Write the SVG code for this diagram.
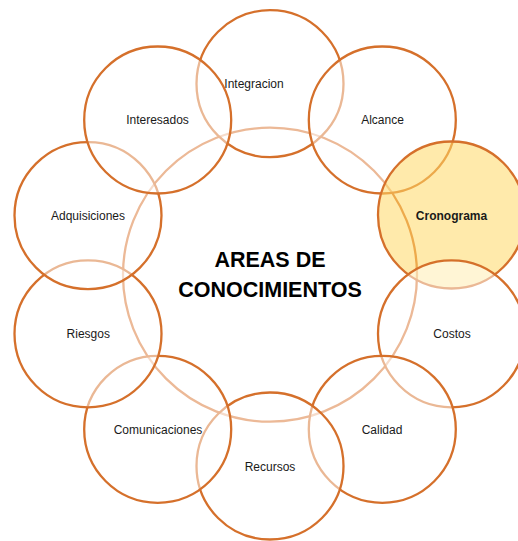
<svg xmlns="http://www.w3.org/2000/svg" width="518" height="541" viewBox="0 0 518 541">
<style>
.c{fill:#FFFFFF;fill-opacity:0.5;stroke:#D5702B;stroke-width:2.3}
.hub{fill:none;stroke:#D8722E;stroke-width:2.3}
.t{font-family:"Liberation Sans",Arial,sans-serif;font-size:12px;fill:#1a1a1a;text-anchor:middle;dominant-baseline:central}
.b{font-weight:bold}
.h{font-family:"Liberation Sans",Arial,sans-serif;font-size:21.5px;font-weight:bold;fill:#000;text-anchor:middle}
</style>
<rect width="518" height="541" fill="#FFFFFF"/>
<g id="hub"><circle class="hub" cx="270" cy="274.7" r="147"/>
<text class="h" x="270" y="266.7">AREAS DE</text><text class="h" x="270" y="296.7">CONOCIMIENTOS</text></g>
<g id="integracion"><circle class="c" cx="270" cy="83.7" r="73.5"/><text class="t" x="254" y="83.5">Integracion</text></g>
<g id="alcance"><circle class="c" cx="382.3" cy="120" r="73.5"/><text class="t" x="382.5" y="120">Alcance</text></g>
<g id="cronograma"><circle class="c" cx="451.5" cy="215" r="73.5" style="fill:#FFD966;fill-opacity:0.55"/><text class="t b" x="451.5" y="215.5">Cronograma</text></g>
<g id="costos"><circle class="c" cx="451.5" cy="333.8" r="73.5"/><text class="t" x="452" y="334">Costos</text></g>
<g id="calidad"><circle class="c" cx="382.3" cy="429.3" r="73.5"/><text class="t" x="382" y="430">Calidad</text></g>
<g id="recursos"><circle class="c" cx="270" cy="466" r="73.5"/><text class="t" x="270" y="466.5">Recursos</text></g>
<g id="comunicaciones"><circle class="c" cx="157.7" cy="429.3" r="73.5"/><text class="t" x="158" y="430">Comunicaciones</text></g>
<g id="riesgos"><circle class="c" cx="88" cy="333.8" r="73.5"/><text class="t" x="88.3" y="334">Riesgos</text></g>
<g id="adquisiciones"><circle class="c" cx="88" cy="215.6" r="73.5"/><text class="t" x="88" y="216">Adquisiciones</text></g>
<g id="interesados"><circle class="c" cx="157.7" cy="120" r="73.5"/><text class="t" x="157.5" y="120">Interesados</text></g>
<g id="connectors"></g>
</svg>
